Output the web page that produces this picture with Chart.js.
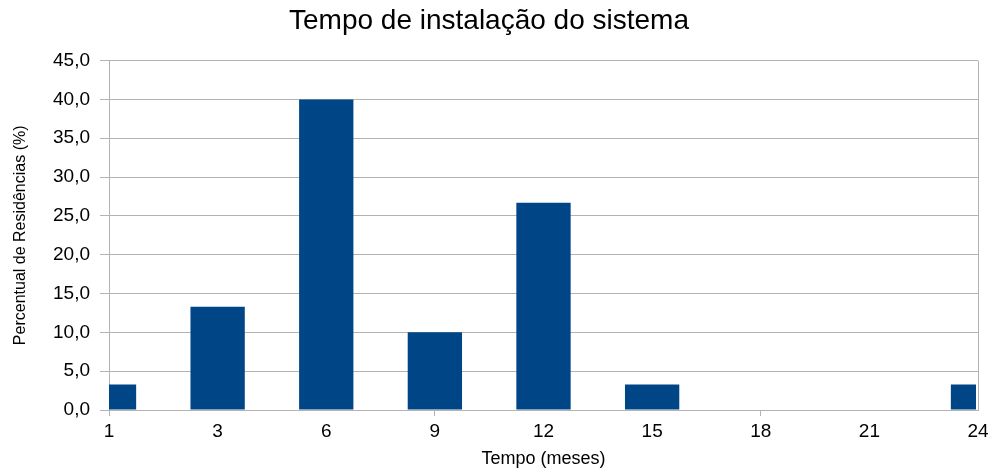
<!DOCTYPE html>
<html>
<head>
<meta charset="utf-8">
<script src="https://cdn.jsdelivr.net/npm/chart.js@4/dist/chart.umd.min.js"></script>
<style>
html,body{margin:0;padding:0;background:#fff;}
canvas{display:block;}
</style>
</head>
<body>
<canvas id="c" width="991" height="468"></canvas>
<script>
const chartTitle = 'Tempo de instalação do sistema';
const xTitle = 'Tempo (meses)';
const yTitle = 'Percentual de Residências (%)';
const categories = ['1', '3', '6', '9', '12', '15', '18', '21', '24'];
const percentValues = [3.3, 13.3, 40.0, 10.0, 26.7, 3.3, 0, 0, 3.3];
const yMin = 0, yMax = 45, yStep = 5;

const GRID = '#b3b3b3';
const FONT = '"Liberation Sans", Arial, sans-serif';

new Chart(document.getElementById('c'), {
  type: 'bar',
  data: {
    labels: categories,
    datasets: [{
      data: percentValues,
      backgroundColor: '#004586',
      borderWidth: 0,
      barPercentage: 1,
      categoryPercentage: 0.5,
      clip: {left: 0, right: -2, top: 0, bottom: 0}
    }]
  },
  options: {
    responsive: false,
    animation: false,
    layout: {padding: {left: 0, right: 13, top: 0, bottom: 0}},
    plugins: {
      legend: {display: false},
      tooltip: {enabled: false},
      title: {
        display: true,
        text: chartTitle,
        color: '#000',
        font: {family: FONT, size: 28, weight: 'normal', lineHeight: 1.2},
        padding: {top: 4, bottom: 23}
      }
    },
    scales: {
      x: {
        type: 'category',
        offset: false,
        grid: {
          display: true,
          offset: false,
          drawOnChartArea: true,
          color: ctx => ctx.index === categories.length - 1 ? GRID : 'rgba(0,0,0,0)',
          tickColor: ctx => (ctx.index % 3 === 0 && ctx.index !== categories.length - 1) ? GRID : 'rgba(0,0,0,0)',
          tickLength: 6,
          lineWidth: 1
        },
        border: {display: true, color: GRID},
        ticks: {
          color: '#000',
          font: {family: FONT, size: 19},
          padding: 4,
          maxRotation: 0,
          autoSkip: false
        },
        title: {
          display: true,
          text: xTitle,
          color: '#000',
          font: {family: FONT, size: 18, lineHeight: 1},
          padding: {top: 0, bottom: 0}
        },
        afterFit: s => { s.height = 58; s.paddingRight = 0; s.paddingLeft = 0; }
      },
      y: {
        min: yMin,
        max: yMax,
        grid: {color: GRID, tickColor: GRID, tickLength: 9},
        border: {display: true, color: GRID},
        ticks: {
          stepSize: yStep,
          color: '#000',
          font: {family: FONT, size: 19},
          padding: 10,
          callback: v => Number(v).toFixed(1).replace('.', ',')
        },
        title: {
          display: true,
          text: yTitle,
          color: '#000',
          font: {family: FONT, size: 16, lineHeight: 1.2},
          padding: {top: 11, bottom: 0}
        },
        afterFit: s => { s.width = 109; }
      }
    }
  }
});
</script>
</body>
</html>
